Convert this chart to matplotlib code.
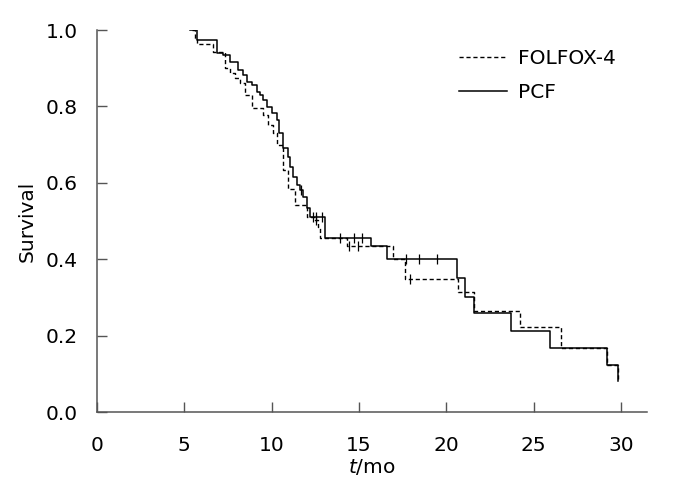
import numpy as np
import matplotlib
matplotlib.use("Agg")
import matplotlib.pyplot as plt

# Kaplan-Meier step data (time in months, survival after each step)
pcf_t = [5.3, 5.74, 6.85, 7.23, 7.61, 8.09, 8.38, 8.57, 8.85, 9.14, 9.33, 9.52, 9.71,
         10.0, 10.3, 10.45, 10.66, 10.95, 11.05, 11.24, 11.43, 11.6, 11.81, 12.0, 12.19,
         13.05, 15.72, 16.62, 20.59, 21.06, 21.58, 23.73, 25.97, 29.23, 29.84]
pcf_s = [1.0, 0.974, 0.939, 0.935, 0.917, 0.895, 0.882, 0.865, 0.856, 0.838, 0.83, 0.817, 0.799,
         0.782, 0.764, 0.73, 0.69, 0.668, 0.642, 0.616, 0.594, 0.58, 0.564, 0.535, 0.511,
         0.455, 0.434, 0.40, 0.352, 0.302, 0.26, 0.212, 0.167, 0.123, 0.08]
pcf_cens = [11.7, 12.38, 12.57, 12.86, 13.91, 14.71, 15.19, 17.72, 18.45, 19.48]

fol_t = [5.45, 5.6, 5.74, 6.66, 7.33, 7.61, 7.9, 8.19, 8.5, 8.85, 9.52, 9.8, 10.09, 10.3,
         10.67, 10.95, 11.33, 12.05, 12.48, 12.67, 12.8, 14.3, 16.96, 17.63, 20.68, 21.58,
         24.25, 26.6, 29.23, 29.84]
fol_s = [1.0, 0.98, 0.963, 0.943, 0.9, 0.887, 0.875, 0.86, 0.83, 0.795, 0.777, 0.75, 0.73, 0.70,
         0.634, 0.583, 0.542, 0.511, 0.503, 0.485, 0.455, 0.434, 0.40, 0.348, 0.315, 0.264,
         0.222, 0.167, 0.123, 0.085]
fol_cens = [12.55, 14.44, 14.96, 17.92]

def step_at(t, s, x):
    idx = np.searchsorted(t, x, side='right') - 1
    return np.array(s)[idx]

plt.rcParams['font.family'] = ['DejaVu Sans']
plt.rcParams['mathtext.fontset'] = 'dejavusans'
FS = 14.5
fig = plt.figure(figsize=(6.85, 4.98), dpi=100)
ax = fig.add_axes([97 / 685, 86 / 498, 550 / 685, 382 / 498])

ax.step(fol_t, fol_s, where='post', color='black', lw=1.0, ls=(0, (3.0, 2.0)), label='FOLFOX-4')
ax.step(pcf_t, pcf_s, where='post', color='black', lw=1.1, label='PCF')
ax.plot(pcf_cens, step_at(pcf_t, pcf_s, pcf_cens), ls='none', marker='|', ms=7, mew=0.9, color='black')
ax.plot(fol_cens, step_at(fol_t, fol_s, fol_cens), ls='none', marker='|', ms=7, mew=0.9, color='black')

ax.set_xlim(0, 31.5)
ax.set_ylim(0, 1.0)
ax.set_xticks([0, 5, 10, 15, 20, 25, 30])
ax.set_yticks([0.0, 0.2, 0.4, 0.6, 0.8, 1.0])
ax.set_yticklabels(['0.0', '0.2', '0.4', '0.6', '0.8', '1.0'])
for side in ['top', 'right']:
    ax.spines[side].set_visible(False)
for side in ['left', 'bottom']:
    ax.spines[side].set_color('#555555')
    ax.spines[side].set_linewidth(1.1)
ax.tick_params(direction='in', length=7, width=1.0, color='#555555', labelsize=FS)
ax.tick_params(axis='y', pad=14)
ax.tick_params(axis='x', pad=17)
ax.set_ylabel('Survival', fontsize=FS, labelpad=6)
ax.set_xlabel('$t$/mo', fontsize=FS, labelpad=2)

ax.legend(loc='upper left', bbox_to_anchor=(451 / 685, 1 - 41 / 498), bbox_transform=fig.transFigure,
          frameon=False, fontsize=FS, handlelength=2.4, handletextpad=0.55, labelspacing=0.72,
          borderaxespad=0)

fig.savefig('out.png', dpi=100)
